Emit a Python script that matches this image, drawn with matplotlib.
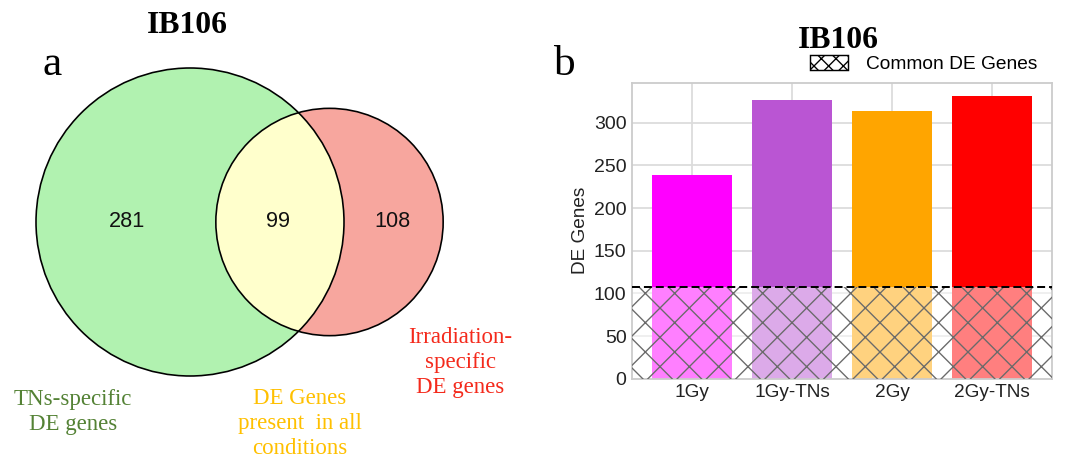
import matplotlib
matplotlib.use('Agg')
import matplotlib.pyplot as plt
from matplotlib.patches import Circle, Patch
import numpy as np

# panel a: venn counts
tns_only = 281
shared = 99
irr_only = 108
venn_labels = ['TNs-specific\nDE genes',
               'DE Genes\npresent  in all\nconditions',
               'Irradiation-\nspecific\nDE genes']
venn_label_colors = ['#548235', '#ffc000', '#f42a1c']

# panel b: DE genes per condition
conditions = ['1Gy', '1Gy-TNs', '2Gy', '2Gy-TNs']
de_genes = [239, 327, 314, 331]
common_de = 108
bar_colors = ['#ff00ff', '#ba55d3', '#ffa500', '#ff0000']

W, H, DPI = 1072, 466, 176
S = 130 / DPI  # sizes below were tuned for 130 dpi
plt.rcParams['hatch.linewidth'] = 0.75 * S
serif = 'Liberation Serif'
sans = 'Liberation Sans'

fig = plt.figure(figsize=(W / DPI, H / DPI), dpi=DPI)

# ---- panel a (drawn in pixel coords) ----
ax1 = fig.add_axes([0, 0, 536 / W, 1])
ax1.set_xlim(0, 536)
ax1.set_ylim(H, 0)
ax1.axis('off')

n_left = tns_only + shared
n_right = irr_only + shared
k = 154 / np.sqrt(n_left)
r1, r2 = k * np.sqrt(n_left), k * np.sqrt(n_right)
c1, c2 = (190, 222), (329.5, 222)

g = Circle(c1, r1, fc='#b1f2b0', ec='none')
ax1.add_patch(g)
ax1.add_patch(Circle(c2, r2, fc='#f7a69e', ec='none'))
inter = Circle(c2, r2, fc='#ffffcc', ec='none')
ax1.add_patch(inter)
inter.set_clip_path(Circle(c1, r1, transform=ax1.transData))
ax1.add_patch(Circle(c1, r1, fc='none', ec='black', lw=0.9 * S))
ax1.add_patch(Circle(c2, r2, fc='none', ec='black', lw=0.9 * S))

for xx, val in zip([127, 278, 392], [tns_only, shared, irr_only]):
    ax1.text(xx, 221, str(val), ha='center', va='center', fontsize=12 * S,
             family=sans, color='#111111')

for (xx, yy), lab, col in zip([(73, 412), (300, 423), (460, 362)],
                              venn_labels, venn_label_colors):
    ax1.text(xx, yy, lab, ha='center', va='center', fontsize=12.7 * S,
             family=serif, color=col, linespacing=1.25)

fig.text(187 / W, 1 - 33 / H, 'IB106', ha='center', va='baseline',
         fontsize=17.5 * S, fontweight='bold', family=serif)
fig.text(52 / W, 1 - 75 / H, 'a', ha='center', va='baseline',
         fontsize=24 * S, family=serif)

# ---- panel b ----
ax2 = fig.add_axes([632 / W, 1 - 378.7 / H, 420 / W, 296 / H])
x = np.arange(len(conditions))
ax2.set_axisbelow(True)
ax2.grid(True, color='#dcdcdc', lw=1 * S)
ax2.bar(x, de_genes, width=0.8, color=bar_colors, zorder=2)
ax2.axhspan(0, common_de, facecolor='white', alpha=0.5, lw=0, zorder=2.5)
ax2.axhspan(0, common_de, fill=False, hatch='xx', edgecolor='#6a6a6a',
            lw=0, zorder=3)
ax2.axhline(common_de, color='black', ls='--', lw=1.1 * S,
            dashes=(4, 2), zorder=4)

ax2.set_xlim(-0.6, 3.6)
ax2.set_ylim(0, 347)
ax2.set_xticks(x)
ax2.set_xticklabels(conditions, family=sans, fontsize=10.5 * S, color='#222222')
ax2.set_yticks(np.arange(0, 301, 50))
ax2.set_yticklabels([str(v) for v in range(0, 301, 50)], family=sans,
                    fontsize=10.8 * S, color='#222222')
ax2.tick_params(length=0, pad=3 * S)
ax2.set_ylabel('DE Genes', family=sans, fontsize=10.5 * S, color='#222222',
               labelpad=3 * S)
for s in ax2.spines.values():
    s.set_color('#cccccc')
    s.set_linewidth(1 * S)

leg = ax2.legend(handles=[Patch(facecolor='white', edgecolor='black',
                                hatch='xxxx', lw=0.8 * S,
                                label='Common DE Genes')],
                 loc='center right', bbox_to_anchor=(1037 / W, 1 - 64 / H),
                 bbox_transform=fig.transFigure, frameon=False,
                 borderpad=0, borderaxespad=0, handlelength=2.0,
                 handleheight=0.8, handletextpad=0.9,
                 prop={'family': sans, 'size': 10.6 * S})

fig.text(838 / W, 1 - 48 / H, 'IB106', ha='center', va='baseline',
         fontsize=17.5 * S, fontweight='bold', family=serif)
fig.text(564 / W, 1 - 75 / H, 'b', ha='center', va='baseline',
         fontsize=24 * S, family=serif)

fig.savefig('out.png', dpi=DPI)
